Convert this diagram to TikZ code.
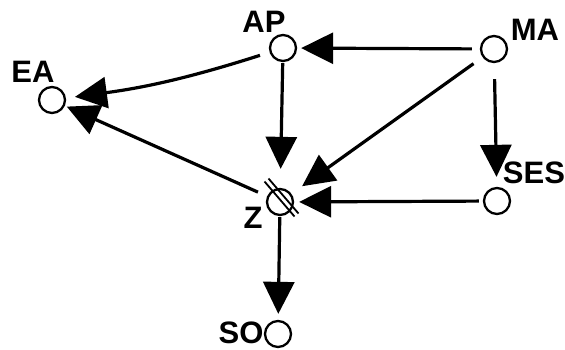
\documentclass[tikz,border=0pt]{standalone}
\usepackage{fontspec}
\setmainfont{Liberation Sans}
\usetikzlibrary{arrows.meta}
\begin{document}
\begin{tikzpicture}[x=1pt,y=-1pt,
  var/.style={circle,draw,line width=2.3pt,minimum size=26pt,inner sep=0pt},
  lbl/.style={font=\fontsize{31}{31}\selectfont\bfseries,inner sep=0pt},
  edge/.style={line width=3.2pt,-{Triangle[length=32pt,width=31pt]}},
  strike/.style={line width=1.8pt}]
\useasboundingbox (0,0) rectangle (565,349);
% variables
\node[var] (EA)  at (52,100)  {};
\node[var] (AP)  at (283,48)  {};
\node[var] (MA)  at (494,49)  {};
\node[var] (SES) at (497,201) {};
\node[var] (Z)   at (280,202) {};
\node[var] (SO)  at (278,334) {};
% labels
\node[lbl] at (33,72)   {EA};
\node[lbl] at (264,22)  {AP};
\node[lbl] at (535,30)  {MA};
\node[lbl] at (534,173) {SES};
\node[lbl] at (253,218) {Z};
\node[lbl] at (241,333) {SO};
% double stroke through Z
\draw[strike] ([shift={(-15.5,-20.5)}]Z.center) -- ([shift={(14.5,14.5)}]Z.center);
\draw[strike] ([shift={(-11.5,-23.5)}]Z.center) -- ([shift={(18.5,11.5)}]Z.center);
% arrows
\draw[edge,shorten <=10pt,shorten >=9pt] (AP) to[bend left=5] (EA);
\draw[edge,shorten <=8pt,shorten >=4pt] (MA) -- (AP);
\draw[edge,shorten <=11pt,shorten >=13pt] (MA) -- (Z);
\draw[edge,shorten <=16pt,shorten >=10pt] (MA) -- (SES);
\draw[edge,shorten <=4pt,shorten >=5pt] (SES) -- (Z);
\draw[edge,shorten <=1pt,shorten >=19pt] (AP) -- (Z);
\draw[edge,shorten <=10pt,shorten >=2pt] (Z) -- (EA);
\draw[edge,shorten <=1pt,shorten >=6pt] (Z) -- (SO);
\end{tikzpicture}
\end{document}
